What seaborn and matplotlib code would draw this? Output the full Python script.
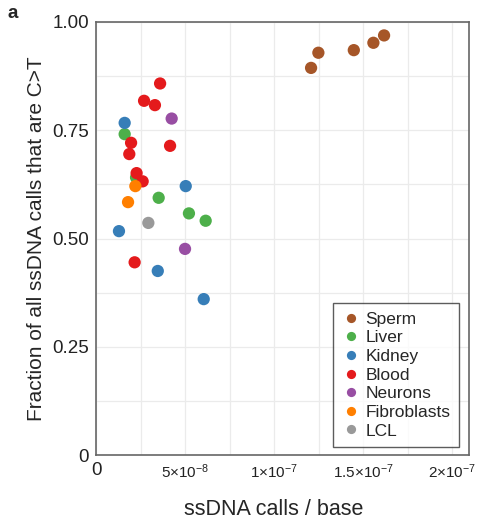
import numpy as np
import pandas as pd
import matplotlib
matplotlib.use("Agg")
import matplotlib.pyplot as plt
import seaborn as sns

tissues = ["Sperm", "Liver", "Kidney", "Blood", "Neurons", "Fibroblasts", "LCL"]
colors = ["#A65628", "#4DAF4A", "#377EB8", "#E41A1C", "#984EA3", "#FF7F00", "#999999"]

sperm_x = [1.208e-7, 1.249e-7, 1.448e-7, 1.558e-7, 1.618e-7]
sperm_y = [0.894, 0.929, 0.935, 0.952, 0.969]
liver_x = [1.61e-8, 2.25e-8, 3.52e-8, 5.22e-8, 6.16e-8]
liver_y = [0.741, 0.641, 0.594, 0.558, 0.541]
kidney_x = [1.61e-8, 5.04e-8, 1.29e-8, 3.47e-8, 6.05e-8]
kidney_y = [0.767, 0.621, 0.517, 0.425, 0.360]
blood_x = [3.60e-8, 2.70e-8, 3.31e-8, 1.97e-8, 4.16e-8, 1.87e-8, 2.28e-8, 2.62e-8, 2.17e-8]
blood_y = [0.858, 0.818, 0.808, 0.721, 0.714, 0.695, 0.651, 0.632, 0.445]
neurons_x = [4.25e-8, 5.00e-8]
neurons_y = [0.777, 0.476]
fibro_x = [2.21e-8, 1.80e-8]
fibro_y = [0.621, 0.584]
lcl_x = [2.94e-8]
lcl_y = [0.536]

xs = [sperm_x, liver_x, kidney_x, blood_x, neurons_x, fibro_x, lcl_x]
ys = [sperm_y, liver_y, kidney_y, blood_y, neurons_y, fibro_y, lcl_y]

xtick_vals = [0, 5e-8, 1e-7, 1.5e-7, 2e-7]
xtick_labels = ["0", r"$5{\times}10^{-8}$", r"$1{\times}10^{-7}$", r"$1.5{\times}10^{-7}$", r"$2{\times}10^{-7}$"]
ytick_vals = [0, 0.25, 0.50, 0.75, 1.00]
ytick_labels = ["0", "0.25", "0.50", "0.75", "1.00"]

rows = []
for t, xv, yv in zip(tissues, xs, ys):
    for a, b in zip(xv, yv):
        rows.append({"tissue": t, "x": a, "y": b})
df = pd.DataFrame(rows)

sns.set_style("white")
plt.rcParams["font.family"] = ["Liberation Sans", "DejaVu Sans"]
plt.rcParams["mathtext.fontset"] = "custom"
plt.rcParams["mathtext.rm"] = "Liberation Sans"
plt.rcParams["mathtext.it"] = "Liberation Sans"
plt.rcParams["mathtext.default"] = "regular"

fig = plt.figure(figsize=(4.79, 5.22), dpi=100)
ax = fig.add_axes([96 / 479, 1 - 455 / 522, (469 - 96) / 479, (455 - 22) / 522])

sns.scatterplot(data=df, x="x", y="y", hue="tissue", hue_order=tissues,
                palette=dict(zip(tissues, colors)), s=78, edgecolor="none",
                linewidth=0, ax=ax, zorder=3)

ax.set_xlim(0, 2.095e-7)
ax.set_ylim(0, 1.0)
ax.set_xticks(xtick_vals)
ax.set_xticklabels(xtick_labels)
ax.set_yticks(ytick_vals)
ax.set_yticklabels(ytick_labels, fontsize=13.5)
for i, lab in enumerate(ax.get_xticklabels()):
    lab.set_fontsize(13.5 if i == 0 else 11)
ax.set_xticks(np.arange(0, 2.1e-7, 2.5e-8), minor=True)
ax.set_yticks(np.arange(0, 1.01, 0.125), minor=True)
ax.grid(True, which="both", color="#ebebeb", linewidth=0.9, zorder=0)
ax.set_axisbelow(True)
ax.tick_params(axis="both", which="major", length=3, width=0.8, color="#555555", pad=2, labelcolor="#222222")
ax.tick_params(axis="both", which="minor", length=0)
for sp in ax.spines.values():
    sp.set_color("#666666")
    sp.set_linewidth(1.2)
    sp.set_visible(True)

ax.set_xlabel("ssDNA calls / base", fontsize=15.5)
ax.xaxis.set_label_coords((274 - 96) / 373, (455 - 499) / 433)
ax.set_ylabel("Fraction of all ssDNA calls that are C>T", fontsize=15)
ax.yaxis.set_label_coords((46 - 96) / 373, 0.5)

leg = ax.legend(loc="lower right", bbox_to_anchor=(0.973, 0.018), frameon=True, fancybox=False,
                fontsize=12.5, markerscale=0.75, handletextpad=0.25, labelspacing=0.2,
                borderpad=0.5, handlelength=1.1, borderaxespad=0, title=None)
leg.get_frame().set_edgecolor("#333333")
leg.get_frame().set_linewidth(1.0)

fig.text(8 / 479, 1 - 18 / 522, "a", fontsize=13.5, fontweight="bold")

fig.savefig("out.png", dpi=100)
